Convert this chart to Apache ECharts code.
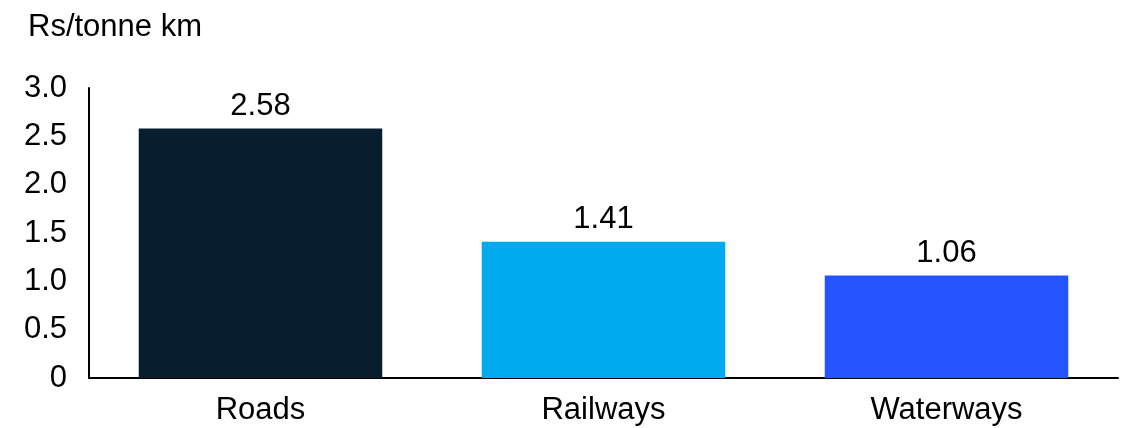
<!DOCTYPE html>
<html>
<head>
<meta charset="utf-8">
<script src="https://cdn.jsdelivr.net/npm/echarts@6/dist/echarts.min.js"></script>
<style>
html, body { margin: 0; padding: 0; background: #fff; }
#main { width: 1130px; height: 428px; }
</style>
</head>
<body>
<div id="main"></div>
<script>
var categories = ['Roads', 'Railways', 'Waterways'];
var values = [2.58, 1.41, 1.06];
var barColors = ['#081d2d', '#00aaef', '#2453ff'];

var myChart = echarts.init(document.getElementById('main'));

var option = {
    animation: false,
    textStyle: { fontFamily: 'Liberation Sans, Arial, sans-serif' },
    title: {
        text: 'Rs/tonne km',
        left: 23,
        top: 7,
        textStyle: { fontSize: 31, fontWeight: 'normal', color: '#000' }
    },
    grid: { left: 89, right: 12, top: 88, bottom: 50 },
    xAxis: {
        type: 'category',
        data: categories,
        axisLine: { lineStyle: { color: '#000', width: 2 } },
        axisTick: { show: false },
        axisLabel: { fontSize: 31, color: '#000', margin: 17 }
    },
    yAxis: {
        type: 'value',
        min: 0,
        max: 3,
        interval: 0.5,
        axisLine: { show: true, lineStyle: { color: '#000', width: 2 } },
        axisTick: { show: false },
        splitLine: { show: false },
        axisLabel: {
            fontSize: 31,
            color: '#000',
            margin: 22,
            formatter: function (v) { return v === 0 ? '0' : v.toFixed(1); }
        }
    },
    series: [{
        type: 'bar',
        barCategoryGap: '29%',
        data: values.map(function (v, i) {
            return { value: v, itemStyle: { color: barColors[i] } };
        }),
        label: {
            show: true,
            position: 'top',
            distance: 7,
            fontSize: 31,
            color: '#000',
            formatter: function (p) { return p.value.toFixed(2); }
        }
    }]
};

myChart.setOption(option);
</script>
</body>
</html>
